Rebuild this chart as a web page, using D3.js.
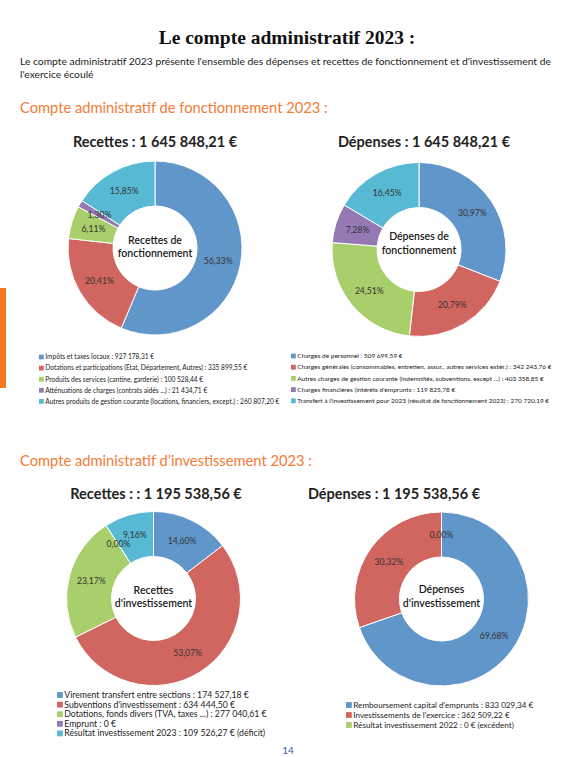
<!DOCTYPE html>
<html><head><meta charset="utf-8">
<script src="https://cdn.jsdelivr.net/npm/d3@7"></script>
<style>
html,body{margin:0;padding:0;background:#fff;}
svg{display:block;}
text{font-family:Lato,"Open Sans",sans-serif;}
</style></head>
<body>
<svg id="c" width="570" height="757"></svg>
<script>
// ---- DATA ----
const recFoncCategories = ["Impôts et taxes locaux","Dotations et participations (Etat, Département, Autres)","Produits des services (cantine, garderie)","Atténuations de charges (contrats aidés ...)","Autres produits de gestion courante (locations, financiers, except.)"];
const recFoncValues = [927178.31, 335899.55, 100528.44, 21434.71, 260807.20];
const recFoncSuffix = ["","","","",""];

const depFoncCategories = ["Charges de personnel","Charges générales (consommables, entretien, assur., autres services extér.)","Autres charges de gestion courante (indemnités, subventions, except ...)","Charges financières (intérêts d'emprunts","Transfert à l'investissement pour 2023 (résultat de fonctionnement 2023)"];
const depFoncValues = [509699.59, 342243.76, 403358.85, 119825.78, 270720.19];
const depFoncSuffix = ["","","","",""];

const recInvCategories = ["Virement transfert entre sections","Subventions d'investissement","Dotations, fonds divers (TVA, taxes ...)","Emprunt","Résultat investissement 2023"];
const recInvValues = [174527.18, 634444.50, 277040.61, 0, 109526.27];
const recInvSuffix = ["","","",""," (déficit)"];

const depInvCategories = ["Remboursement capital d'emprunts","Investissements de l'exercice","Résultat investissement 2022"];
const depInvValues = [833029.34, 362509.22, 0];
const depInvSuffix = ["",""," (excédent)"];

const colors = ["#6096C9","#D0665F","#A8CF6B","#9479B3","#57B9D3"];

// ---- FORMAT ----
const fr = d3.formatLocale({decimal:",", thousands:" ", grouping:[3], currency:["","€"]});
const fmtMoney = v => v === 0 ? "0" : fr.format(",.2f")(v);
const fmtPct = p => (p*100).toFixed(2).replace(".", ",") + "%";

const svg = d3.select("#c");
svg.append("rect").attr("width",570).attr("height",757).attr("fill","#fff");

// Header
svg.append("text").attr("x",287).attr("y",44).attr("text-anchor","middle")
  .style("font-family","'Liberation Serif','DejaVu Serif',serif").style("font-weight","bold")
  .style("font-size","19.5px").attr("fill","#111").text("Le compte administratif 2023 :");
svg.append("text").attr("x",20).attr("y",65).style("font-size","10.3px").attr("fill","#222")
  .text("Le compte administratif 2023 présente l'ensemble des dépenses et recettes de fonctionnement et d'investissement de");
svg.append("text").attr("x",20).attr("y",78).style("font-size","10.3px").attr("fill","#222")
  .text("l'exercice écoulé");

const orange = "#F47B35";
svg.append("text").attr("x",20).attr("y",113).style("font-size","14.7px").attr("fill",orange)
  .text("Compte administratif de fonctionnement 2023 :");
svg.append("text").attr("x",20).attr("y",466).style("font-size","14.7px").attr("fill",orange)
  .text("Compte administratif d\u2019investissement 2023 :");

// left orange bar
svg.append("rect").attr("x",0).attr("y",288).attr("width",6).attr("height",100).attr("fill","#F47920");

// page number
svg.append("text").attr("x",288).attr("y",754).attr("text-anchor","middle").style("font-size","10px")
  .attr("fill","#3b5bab").text("14");

const charts = [
  {cats:recFoncCategories, vals:recFoncValues, suf:recFoncSuffix, cx:155, cy:248,
   title:"Recettes : 1 645 848,21 €", tx:155, ty:147, center:["Recettes de","fonctionnement"], cty:-1,
   lx:39, ly:357, ldy:11.1, lfs:6.6, sq:4.8, maxR:285},
  {cats:depFoncCategories, vals:depFoncValues, suf:depFoncSuffix, cx:419, cy:249.5,
   title:"Dépenses : 1 645 848,21 €", tx:424, ty:147, center:["Dépenses de","fonctionnement"], cty:-6,
   lx:291, ly:356, ldy:11.2, lfs:6.5, sq:4.8, maxR:555},
  {cats:recInvCategories, vals:recInvValues, suf:recInvSuffix, cx:153.5, cy:598.5,
   title:"Recettes : : 1 195 538,56  €", tx:156, ty:499, center:["Recettes","d'investissement"], cty:-1.5,
   lx:57, ly:695, ldy:9.6, lfs:8.7, sq:5.8, maxR:290},
  {cats:depInvCategories, vals:depInvValues, suf:depInvSuffix, cx:441.5, cy:599,
   title:"Dépenses : 1 195 538,56 €", tx:394, ty:499, center:["Dépenses","d'investissement"], cty:-2.5,
   lx:346, ly:705, ldy:10, lfs:8.1, sq:5.8, maxR:560}
];

const R = 87, r0 = 42, rl = 64.5;

charts.forEach(ch => {
  const g = svg.append("g").attr("transform",`translate(${ch.cx},${ch.cy})`);
  const total = d3.sum(ch.vals);
  const pie = d3.pie().sort(null).value(d => d)(ch.vals);
  const arc = d3.arc().innerRadius(r0).outerRadius(R);
  g.selectAll("path").data(pie).join("path")
    .attr("d", arc).attr("fill",(d,i)=>colors[i])
    .attr("stroke","#fff").attr("stroke-width",1);
  // labels with simple collision avoidance
  const placed = [];
  pie.forEach((d,i) => {
    const a = (d.startAngle + d.endAngle)/2;
    let rr = rl, x, y;
    const w = 26, h = 9;
    for (let k=0;k<20;k++){
      x = rr*Math.sin(a); y = -rr*Math.cos(a);
      const hit = placed.some(p => Math.abs(p.x-x) < w && Math.abs(p.y-y) < h);
      if (!hit) break;
      rr += 1.5;
    }
    placed.push({x,y});
    g.append("text").attr("x",x).attr("y",y).attr("dy","0.35em").attr("text-anchor","middle")
      .style("font-size","8.6px").attr("fill","#333").text(fmtPct(d.value/total));
  });
  // center text
  ch.center.forEach((t,i) => {
    g.append("text").attr("x",0).attr("y",ch.cty + (i-0.5)*13.5).attr("dy","0.35em")
      .attr("text-anchor","middle").style("font-size","10.5px").style("font-weight","600")
      .attr("fill","#1a1a1a").text(t);
  });
  // title
  svg.append("text").attr("x",ch.tx).attr("y",ch.ty).attr("text-anchor","middle")
    .style("font-size","14.5px").style("font-weight","bold").attr("fill","#222").text(ch.title);
  // legend
  const lg = svg.append("g");
  ch.cats.forEach((c,i) => {
    const y = ch.ly + i*ch.ldy;
    const tx = ch.lx+ch.sq+1.5;
    lg.append("rect").attr("x",ch.lx).attr("y",y-ch.sq/2).attr("width",ch.sq).attr("height",ch.sq).attr("fill",colors[i]);
    const t = lg.append("text").attr("x",tx).attr("y",y).attr("dy","0.35em")
      .style("font-size",ch.lfs+"px").attr("fill","#222")
      .text(`${c} : ${fmtMoney(ch.vals[i])} €${ch.suf[i]||""}`);
    const len = t.node().getComputedTextLength();
    if (tx + len > ch.maxR) t.attr("textLength", ch.maxR - tx).attr("lengthAdjust","spacingAndGlyphs");
  });
});
</script>
</body></html>
